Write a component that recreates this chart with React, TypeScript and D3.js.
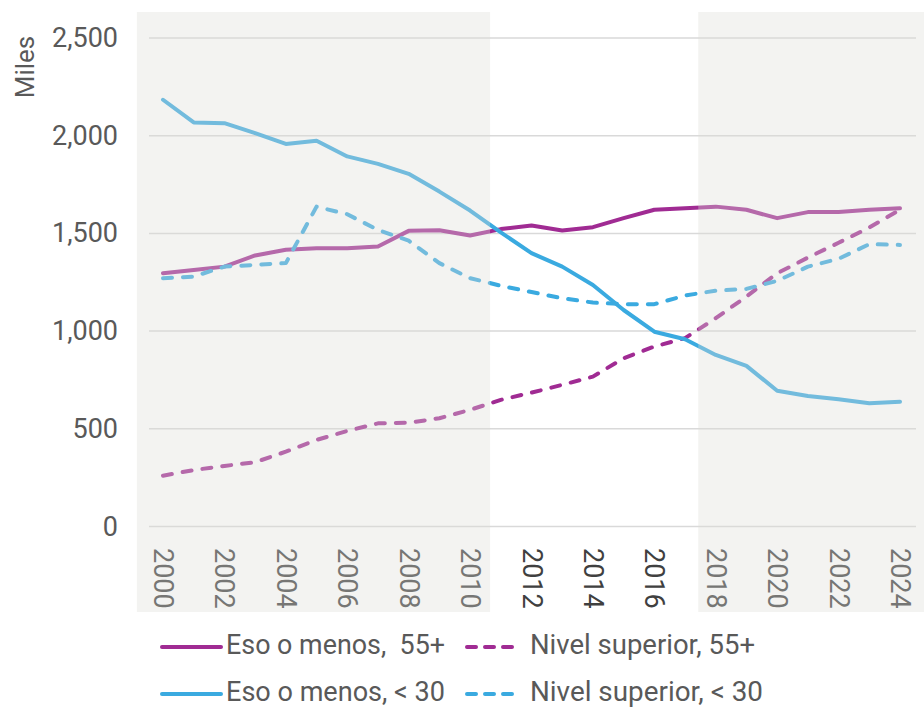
import React from "react";
import * as d3 from "d3";

const years: number[] = d3.range(2000, 2025);
const esoMenos55: number[] = [1296, 1313, 1330, 1387, 1416, 1424, 1424, 1433, 1513, 1516, 1489, 1522, 1540, 1515, 1532, 1578, 1621, 1629, 1637, 1621, 1578, 1609, 1609, 1621, 1629];
const nivelSup55: number[] = [260, 289, 310, 329, 383, 443, 489, 528, 531, 554, 597, 648, 685, 725, 767, 861, 921, 964, 1066, 1177, 1296, 1376, 1452, 1530, 1621];
const esoMenos30: number[] = [2184, 2068, 2064, 2013, 1958, 1974, 1894, 1856, 1805, 1714, 1617, 1505, 1399, 1330, 1236, 1108, 997, 958, 878, 822, 695, 668, 651, 631, 639];
const nivelSup30: number[] = [1271, 1279, 1330, 1339, 1348, 1637, 1598, 1518, 1463, 1348, 1271, 1232, 1200, 1168, 1146, 1138, 1138, 1182, 1207, 1216, 1257, 1330, 1370, 1445, 1441];
const yTicks: number[] = [0, 500, 1000, 1500, 2000, 2500];
const xTicks: number[] = d3.range(2000, 2025, 2);
const shadedPeriods: [number, number][] = [[1999.15, 2010.65], [2017.43, 2024.85]];
const seriesNames: string[] = ["Eso o menos,  55+", "Nivel superior, 55+", "Eso o menos, < 30", "Nivel superior, < 30"];
const yTitle = "Miles";

const PURPLE = "#A02B93";
const BLUE = "#3AAAE0";

export default function App() {
  const W = 924, H = 710;
  const x = d3.scaleLinear().domain([2000, 2024]).range([163, 900]);
  const y = d3.scaleLinear().domain([0, 2500]).range([526.5, 38]);
  const line = d3.line<number>().x((_, i) => x(years[i])).y((d) => y(d));

  const series = [
    { name: seriesNames[0], values: esoMenos55, color: PURPLE, dashed: false },
    { name: seriesNames[1], values: nivelSup55, color: PURPLE, dashed: true },
    { name: seriesNames[2], values: esoMenos30, color: BLUE, dashed: false },
    { name: seriesNames[3], values: nivelSup30, color: BLUE, dashed: true },
  ];
  const font = "Roboto, 'Noto Sans', sans-serif";

  const legendPos = [
    { lx: 162, tx: 226, ty: 647, tl: 219 },
    { lx: 467, tx: 530, ty: 647, tl: 225 },
    { lx: 162, tx: 226, ty: 694, tl: 219 },
    { lx: 467, tx: 530, ty: 694, tl: 233 },
  ];

  return (
    <svg width={W} height={H} style={{ position: "absolute", left: 0, top: 0, background: "#fff" }} fontFamily={font}>
      <rect x={0} y={0} width={W} height={H} fill="#fff" />
      {yTicks.map((t) => (
        <line key={"g" + t} x1={149} x2={916} y1={y(t)} y2={y(t)} stroke="#d9d9d9" strokeWidth={1.5} />
      ))}
      {series.map((s) => (
        <path key={s.name} d={line(s.values) || ""} fill="none" stroke={s.color} strokeWidth={4}
          strokeLinejoin="round" strokeLinecap="round"
          strokeDasharray={s.dashed ? "9,11" : undefined} />
      ))}
      {xTicks.map((t) => (
        <text key={"x" + t} transform={`translate(${x(t)},548) rotate(90)`} textAnchor="start"
          dominantBaseline="central" fontSize={27} fill="#404040">{t}</text>
      ))}
      {shadedPeriods.map(([a, b], i) => (
        <rect key={"s" + i} x={x(a)} y={12} width={x(b) - x(a)} height={600} fill="#dcdcd6" fillOpacity={0.35} />
      ))}
      {yTicks.map((t) => (
        <text key={"y" + t} x={118} y={y(t)} textAnchor="end" dominantBaseline="central" fontSize={27} fill="#595959">
          {d3.format(",")(t)}
        </text>
      ))}
      <text transform="translate(25,67) rotate(-90)" textAnchor="middle" dominantBaseline="central" fontSize={26} fill="#595959">{yTitle}</text>
      {series.map((s, i) => {
        const p = legendPos[i];
        return (
          <g key={"l" + i}>
            <line x1={p.lx} x2={p.lx + (s.dashed ? 53 : 59)} y1={p.ty} y2={p.ty} stroke={s.color} strokeWidth={4}
              strokeLinecap="round" strokeDasharray={s.dashed ? "9,9" : undefined} />
            <text x={p.tx} y={p.ty + 7} fontSize={27} fill="#595959" textLength={p.tl} lengthAdjust="spacingAndGlyphs"
              style={{ whiteSpace: "pre" }}>{s.name}</text>
          </g>
        );
      })}
    </svg>
  );
}
